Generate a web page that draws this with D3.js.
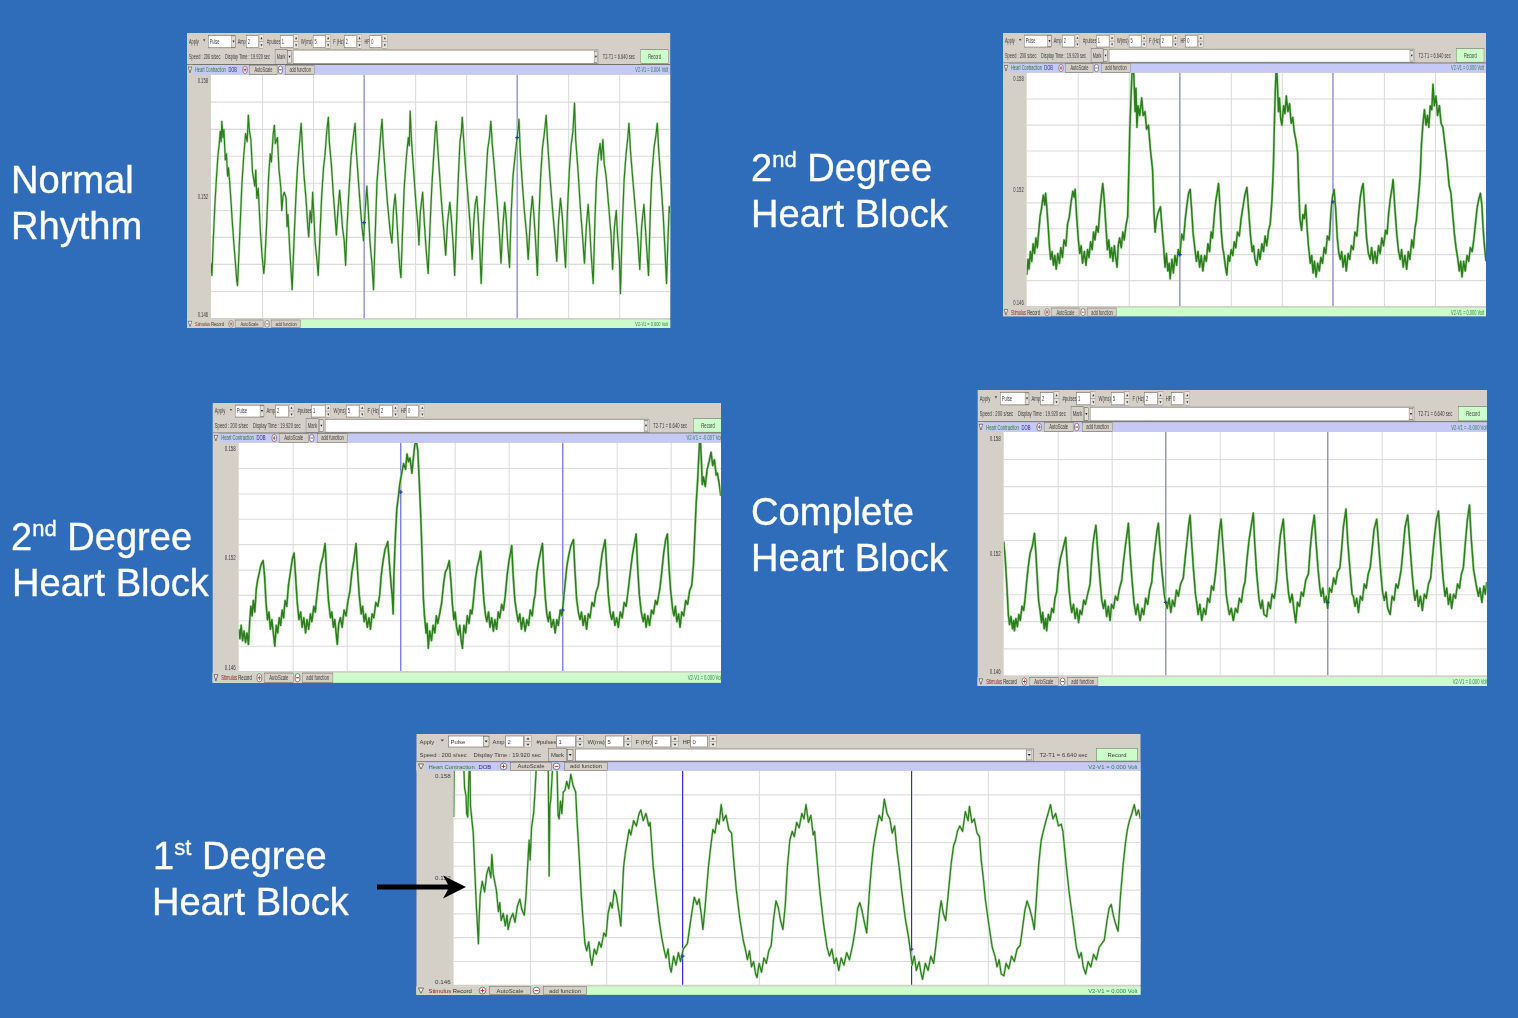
<!DOCTYPE html>
<html>
<head>
<meta charset="utf-8">
<title>Heart block recordings</title>
<script src="https://cdn.jsdelivr.net/npm/d3@7"></script>
<style>
  html, body { margin: 0; padding: 0; background: #2f6dbb; overflow: hidden; }
  svg { display: block; }
  text { font-family: "Liberation Sans", Arial, sans-serif; }
</style>
</head>
<body>
<svg id="slide" width="1518" height="1018"></svg>
<script>
// traces: [time in sec, volts]
var normalTrace = [
[0,.1487],[.04,.1481],[.1,.1499],[.17,.1516],[.22,.1526],[.3,.1540],[.36,.1546],[.4,.1552],[.44,.1547],[.47,.1557],[.52,.1549],[.56,.1553],[.62,.1538],[.67,.1541],[.72,.1530],[.76,.1534],[.81,.1527],[.86,.1519],[.92,.1508],[.99,.1497],[1.06,.1487],[1.12,.1478],[1.15,.1476],
[1.2,.1489],[1.28,.1510],[1.34,.1526],[1.42,.1540],[1.5,.1551],[1.57,.1547],[1.62,.1560],[1.67,.1552],[1.73,.1548],[1.8,.1532],[1.9,.1525],[1.94,.1533],[1.99,.1519],[2.05,.1524],[2.14,.1503],[2.22,.1490],[2.29,.1482],[2.33,.1487],
[2.42,.1508],[2.5,.1530],[2.57,.1541],[2.62,.1537],[2.7,.1551],[2.75,.1555],[2.79,.1546],[2.88,.1549],[2.95,.1533],[3.03,.1524],[3.07,.1513],[3.12,.1520],[3.18,.1522],[3.26,.1519],[3.3,.1505],[3.34,.1511],[3.42,.1493],[3.48,.1482],[3.52,.1474],
[3.6,.1498],[3.68,.1519],[3.75,.1534],[3.82,.1544],[3.91,.1556],[3.97,.1543],[4.03,.1531],[4.12,.1519],[4.2,.1505],[4.24,.1500],[4.3,.1513],[4.36,.1507],[4.41,.1522],[4.46,.1511],[4.52,.1497],[4.6,.1488],[4.65,.1481],
[4.72,.1499],[4.8,.1520],[4.88,.1534],[4.95,.1541],[5.02,.1552],[5.09,.1559],[5.13,.1547],[5.22,.1536],[5.3,.1522],[5.38,.1510],[5.44,.1501],[5.5,.1512],[5.58,.1523],[5.63,.1516],[5.7,.1505],[5.78,.1498],[5.84,.1486],
[5.9,.1505],[6,.1526],[6.08,.1540],[6.17,.1549],[6.25,.1556],[6.3,.1543],[6.38,.1530],[6.47,.1516],[6.55,.1505],[6.62,.1498],[6.68,.1512],[6.76,.1525],[6.82,.1514],[6.9,.1497],[6.98,.1487],[7.05,.1474],
[7.12,.1500],[7.2,.1527],[7.3,.1541],[7.37,.1552],[7.42,.1558],[7.47,.1546],[7.56,.1531],[7.66,.1516],[7.78,.1502],[7.85,.1497],[7.92,.1514],[7.99,.1521],[8.05,.1511],[8.12,.1497],[8.19,.1485],[8.24,.1480],
[8.3,.1500],[8.38,.1524],[8.48,.1540],[8.56,.1549],[8.6,.1545],[8.64,.1562],[8.7,.1547],[8.8,.1531],[8.9,.1515],[8.98,.1505],[9.02,.1496],[9.08,.1512],[9.18,.1522],[9.26,.1506],[9.33,.1494],[9.42,.1482],
[9.5,.1505],[9.58,.1525],[9.66,.1540],[9.72,.1551],[9.77,.1557],[9.83,.1545],[9.92,.1530],[10,.1517],[10.1,.1503],[10.18,.1491],[10.26,.1507],[10.36,.1517],[10.42,.1510],[10.5,.1497],[10.57,.1481],
[10.64,.1503],[10.72,.1527],[10.8,.1547],[10.86,.1552],[10.9,.1559],[10.96,.1548],[11.06,.1532],[11.16,.1518],[11.26,.1503],[11.33,.1489],[11.4,.1508],[11.46,.1516],[11.53,.1520],[11.59,.1510],[11.66,.1494],[11.72,.1477],
[11.8,.1502],[11.9,.1523],[12,.1543],[12.08,.1549],[12.14,.1557],[12.2,.1546],[12.3,.1533],[12.42,.1516],[12.52,.1500],[12.58,.1487],[12.66,.1505],[12.74,.1517],[12.8,.1510],[12.88,.1495],[12.95,.1485],
[13.02,.1511],[13.1,.1530],[13.2,.1541],[13.28,.1549],[13.36,.1558],[13.42,.1541],[13.5,.1527],[13.6,.1512],[13.7,.1500],[13.76,.1489],[13.86,.1510],[13.94,.1520],[14,.1512],[14.08,.1498],[14.16,.1481],
[14.22,.1508],[14.3,.1530],[14.38,.1544],[14.46,.1551],[14.54,.1560],[14.6,.1547],[14.7,.1530],[14.82,.1513],[14.92,.1500],[15,.1488],[15.08,.1508],[15.16,.1519],[15.24,.1510],[15.32,.1495],[15.38,.1485],
[15.46,.1512],[15.54,.1532],[15.62,.1545],[15.7,.1552],[15.77,.1566],[15.82,.1548],[15.92,.1533],[16.02,.1515],[16.12,.1500],[16.2,.1487],[16.28,.1505],[16.36,.1516],[16.42,.1506],[16.5,.1490],[16.58,.1477],
[16.66,.1510],[16.72,.1528],[16.8,.1540],[16.88,.1546],[16.93,.1538],[17,.1548],[17.06,.1536],[17.14,.1530],[17.26,.1514],[17.36,.1500],[17.42,.1484],[17.5,.1505],[17.58,.1513],[17.64,.1500],[17.72,.1488],[17.76,.1472],
[17.84,.1505],[17.92,.1528],[18,.1540],[18.08,.1549],[18.13,.1556],[18.2,.1542],[18.3,.1528],[18.42,.1512],[18.52,.1498],[18.6,.1484],[18.68,.1505],[18.78,.1516],[18.84,.1505],[18.92,.1491],[18.98,.1481],
[19.05,.1510],[19.12,.1530],[19.22,.1544],[19.3,.1550],[19.36,.1556],[19.42,.1543],[19.52,.1527],[19.62,.1510],[19.7,.1492],[19.76,.1477],[19.82,.1498],[19.88,.1515],[19.92,.1512]
];

var secondTraceTop = [
[0,.1476],[.06,.1484],[.1,.1479],[.16,.1488],[.22,.1483],[.28,.1492],[.34,.1487],[.4,.1495],[.46,.1490],[.52,.1498],[.58,.1506],[.64,.1510],[.72,.1517],[.78,.1512],[.82,.1518],[.87,.1511],[.93,.1501],[.99,.1490],[1.04,.1484],[1.1,.1488],[1.16,.1481],[1.22,.1486],[1.28,.1479],[1.35,.1487],[1.42,.1482],[1.48,.1490],[1.55,.1485],[1.62,.1494],[1.7,.1491],[1.77,.1502],[1.85,.1506],[1.93,.1514],[2,.1519],[2.06,.1516],[2.1,.1520],[2.16,.1507],[2.24,.1494],[2.3,.1487],[2.36,.1491],[2.42,.1482],[2.5,.1488],[2.57,.1481],[2.64,.1489],[2.7,.1485],[2.77,.1493],[2.84,.1489],[2.9,.1498],[2.96,.1494],[3.03,.1501],[3.1,.1498],[3.18,.1510],[3.25,.1518],[3.3,.1523],[3.36,.1515],[3.44,.1500],[3.5,.1489],[3.56,.1494],[3.62,.1485],[3.68,.1490],[3.74,.1483],[3.8,.1491],[3.86,.1485],[3.92,.1480],[3.97,.1491],[4.03,.1495],[4.1,.1490],[4.17,.1498],[4.23,.1494],[4.3,.1501],[4.38,.1506],[4.42,.1525],[4.47,.1550],[4.5,.1560],[4.55,.1575],[4.6,.1590],[4.66,.1575],[4.7,.1560],[4.74,.1572],[4.78,.1552],[4.83,.1563],[4.9,.1558],[4.99,.1567],[5.05,.1558],[5.13,.1560],[5.2,.1551],[5.28,.1553],[5.36,.1541],[5.46,.1530],[5.52,.1508],[5.57,.1498],[5.62,.1504],[5.7,.1508],[5.8,.1511],[5.87,.1500],[5.94,.1490],[6,.1480],[6.06,.1487],[6.12,.1478],[6.18,.1482],[6.22,.1474],
[6.3,.1484],[6.36,.1477],[6.43,.1486],[6.5,.1481],[6.57,.1489],[6.64,.1486],[6.72,.1497],[6.8,.1494],[6.88,.1505],[6.95,.1512],[7.02,.1518],[7.09,.1520],[7.15,.1510],[7.22,.1497],[7.3,.1489],[7.36,.1483],[7.43,.1488],[7.5,.1480],[7.57,.1486],[7.64,.1478],[7.72,.1486],[7.79,.1483],[7.86,.1492],[7.93,.1488],[8,.1498],[8.06,.1495],[8.14,.1507],[8.2,.1514],[8.27,.1519],[8.32,.1523],[8.38,.1512],[8.44,.1498],[8.5,.1490],[8.56,.1486],[8.62,.1480],[8.68,.1476],[8.74,.1486],[8.8,.1483],[8.87,.1489],[8.94,.1486],[9,.1493],[9.07,.1490],[9.14,.1498],[9.22,.1496],[9.3,.1505],[9.38,.1511],[9.46,.1517],[9.55,.1521],[9.62,.1510],[9.7,.1497],[9.78,.1488],[9.84,.1491],[9.9,.1484],[9.98,.1481],[10.05,.1489],[10.12,.1484],[10.2,.1492],[10.27,.1488],[10.34,.1496],[10.41,.1491],[10.49,.1499],[10.56,.1502],[10.64,.1515],[10.7,.1532],[10.74,.1553],[10.78,.1570],[10.83,.1585],[10.86,.1578],[10.92,.1560],[10.96,.1567],[11.02,.1556],[11.07,.1553],[11.14,.1563],[11.2,.1559],[11.26,.1568],[11.33,.1560],[11.4,.1564],[11.47,.1554],[11.54,.1557],[11.6,.1550],[11.68,.1545],[11.75,.1539],[11.8,.1520],[11.85,.1505],[11.92,.1499],[11.98,.1507],[12.04,.1505],[12.1,.1512],[12.16,.1500],[12.22,.1491],[12.3,.1482],[12.36,.1486],[12.42,.1477],[12.48,.1483],[12.55,.1475],[12.62,.1482],[12.69,.1478],[12.76,.1485],[12.83,.1482],[12.9,.1490],[12.97,.1487],[13.04,.1496],[13.12,.1494],[13.2,.1509],[13.26,.1516],[13.33,.1520],[13.4,.1510],[13.47,.1495],[13.54,.1487],[13.6,.1484],[13.66,.1488],[13.72,.1480],[13.8,.1486],[13.86,.1478],[13.94,.1487],[14.01,.1484],[14.08,.1491],[14.16,.1489],[14.24,.1498],[14.32,.1496],[14.4,.1508],[14.47,.1516],[14.54,.1521],[14.59,.1523],[14.66,.1510],[14.74,.1495],[14.82,.1487],[14.9,.1484],[14.96,.1490],[15.03,.1482],[15.1,.1488],[15.18,.1482],[15.26,.1491],[15.33,.1487],[15.4,.1495],[15.48,.1491],[15.56,.1499],[15.63,.1497],[15.7,.1508],[15.78,.1516],[15.85,.1521],[15.89,.1525],[15.97,.1510],[16.05,.1497],[16.13,.1488],[16.2,.1484],[16.26,.1489],[16.33,.1480],[16.4,.1486],[16.48,.1479],[16.55,.1488],[16.62,.1484],[16.7,.1494],[16.77,.1490],[16.84,.1500],[16.9,.1504],[16.96,.1512],[17.02,.1520],[17.07,.1528],[17.12,.1543],[17.18,.1553],[17.25,.1561],[17.32,.1553],[17.38,.1558],[17.44,.1552],[17.5,.1563],[17.57,.1561],[17.62,.1574],[17.68,.1563],[17.75,.1568],[17.82,.1558],[17.9,.1563],[17.97,.1554],[18.05,.1552],[18.14,.1543],[18.23,.1534],[18.32,.1522],[18.4,.1518],[18.47,.1508],[18.55,.1497],[18.62,.1490],[18.7,.1484],[18.76,.1478],[18.82,.1483],[18.88,.1475],[18.95,.1483],[19.02,.1478],[19.1,.1486],[19.17,.1483],[19.24,.1490],[19.32,.1488],[19.39,.1494],[19.46,.1502],[19.54,.1511],[19.61,.1515],[19.68,.1518],[19.74,.1512],[19.8,.1499],[19.86,.1490],[19.92,.1483]
];

var secondTraceLeft = [
[0,.1482],[.05,.1477],[.1,.1484],[.16,.1476],[.22,.1481],[.28,.1475],[.34,.1480],[.4,.1474],[.45,.1486],[.5,.1494],[.55,.1489],[.6,.1497],[.66,.1491],[.72,.1503],[.78,.1508],[.85,.1512],[.92,.1516],[1,.1518],[1.06,.1510],[1.12,.1496],[1.18,.1487],[1.24,.1491],[1.3,.1482],[1.36,.1487],[1.42,.1480],[1.48,.1473],[1.54,.1484],[1.6,.1480],[1.66,.1488],[1.72,.1484],[1.78,.1492],[1.84,.1488],[1.9,.1497],[1.97,.1494],[2.04,.1505],[2.12,.1512],[2.2,.1519],[2.27,.1522],[2.33,.1510],[2.4,.1496],[2.47,.1487],[2.54,.1491],[2.6,.1483],[2.67,.1488],[2.74,.1480],[2.8,.1487],[2.87,.1482],[2.94,.1490],[3,.1486],[3.08,.1494],[3.14,.1491],[3.2,.1499],[3.28,.1508],[3.36,.1516],[3.45,.1520],[3.54,.1527],[3.6,.1512],[3.68,.1497],[3.76,.1488],[3.82,.1491],[3.88,.1483],[3.94,.1487],[4,.1479],[4.04,.1474],[4.1,.1485],[4.17,.1488],[4.24,.1483],[4.32,.1492],[4.4,.1489],[4.48,.1497],[4.56,.1502],[4.64,.1512],[4.72,.1518],[4.81,.1527],[4.87,.1513],[4.94,.1500],[5.02,.1490],[5.08,.1494],[5.14,.1486],[5.2,.1490],[5.27,.1483],[5.34,.1488],[5.4,.1482],[5.47,.1490],[5.54,.1488],[5.62,.1496],[5.7,.1494],[5.78,.1500],[5.84,.1510],[5.92,.1518],[6,.1524],[6.11,.1528],[6.18,.1516],[6.25,.1505],[6.3,.1498],[6.33,.1490],[6.36,.1510],[6.42,.1530],[6.48,.1545],[6.55,.1552],[6.6,.1558],[6.68,.1564],[6.76,.1569],[6.84,.1566],[6.9,.1574],[6.96,.1570],[7.02,.1572],[7.1,.1564],[7.16,.1572],[7.22,.1579],[7.28,.1581],[7.34,.1576],[7.4,.1560],[7.46,.1542],[7.52,.1520],[7.57,.1498],[7.62,.1488],[7.68,.1480],[7.72,.1485],[7.77,.1472],
[7.83,.1481],[7.9,.1476],[7.97,.1484],[8.04,.1480],[8.1,.1489],[8.16,.1485],[8.25,.1491],[8.32,.1496],[8.4,.1506],[8.47,.1512],[8.55,.1514],[8.63,.1518],[8.7,.1507],[8.76,.1495],[8.82,.1487],[8.87,.1491],[8.93,.1483],[9,.1479],[9.06,.1484],[9.12,.1476],[9.17,.1472],[9.23,.1484],[9.3,.1480],[9.37,.1489],[9.44,.1485],[9.5,.1492],[9.56,.1490],[9.62,.1497],[9.7,.1508],[9.78,.1515],[9.86,.1519],[9.92,.1523],[9.98,.1510],[10.05,.1497],[10.12,.1489],[10.17,.1486],[10.24,.1491],[10.3,.1483],[10.37,.1488],[10.44,.1481],[10.5,.1487],[10.57,.1482],[10.64,.1491],[10.7,.1488],[10.78,.1495],[10.85,.1492],[10.92,.1499],[11,.1510],[11.08,.1518],[11.14,.1522],[11.19,.1526],[11.25,.1510],[11.32,.1497],[11.4,.1490],[11.46,.1486],[11.52,.1490],[11.59,.1482],[11.66,.1488],[11.74,.1481],[11.81,.1487],[11.88,.1484],[11.95,.1492],[12.03,.1489],[12.1,.1497],[12.15,.1500],[12.22,.1512],[12.3,.1518],[12.38,.1523],[12.45,.1527],[12.5,.1512],[12.57,.1498],[12.63,.1490],[12.69,.1486],[12.75,.1491],[12.82,.1483],[12.9,.1487],[12.97,.1480],[13.04,.1487],[13.1,.1484],[13.18,.1492],[13.25,.1489],[13.31,.1497],[13.38,.1506],[13.45,.1515],[13.53,.1521],[13.62,.1526],[13.72,.1529],[13.78,.1513],[13.85,.1498],[13.92,.1491],[13.99,.1487],[14.05,.1491],[14.12,.1484],[14.19,.1489],[14.26,.1482],[14.33,.1490],[14.4,.1488],[14.48,.1496],[14.56,.1494],[14.64,.1501],[14.74,.1505],[14.82,.1514],[14.9,.1522],[15.02,.1529],[15.08,.1515],[15.15,.1500],[15.22,.1491],[15.29,.1487],[15.35,.1491],[15.42,.1484],[15.49,.1488],[15.56,.1483],[15.64,.1491],[15.72,.1488],[15.8,.1496],[15.88,.1494],[15.97,.1503],[16.05,.1512],[16.14,.1521],[16.22,.1527],[16.29,.1532],[16.35,.1515],[16.42,.1500],[16.5,.1491],[16.58,.1486],[16.64,.1490],[16.7,.1483],[16.77,.1489],[16.84,.1484],[16.92,.1492],[17,.1490],[17.08,.1497],[17.15,.1495],[17.27,.1504],[17.34,.1512],[17.42,.1522],[17.5,.1529],[17.57,.1532],[17.63,.1516],[17.7,.1503],[17.78,.1493],[17.84,.1489],[17.9,.1494],[17.96,.1486],[18.03,.1490],[18.09,.1483],[18.16,.1491],[18.24,.1489],[18.32,.1497],[18.4,.1495],[18.48,.1502],[18.57,.1505],[18.64,.1516],[18.7,.1533],[18.75,.1548],[18.81,.1560],[18.86,.1573],[18.91,.1585],[18.96,.1572],[19,.1558],[19.05,.1562],[19.12,.1557],[19.2,.1566],[19.28,.1570],[19.36,.1575],[19.43,.1568],[19.5,.1571],[19.57,.1563],[19.62,.1564],[19.7,.1558],[19.76,.1552]
];

var completeTrace = [
[0,.1526],[.06,.1518],[.12,.1506],[.16,.1497],[.19,.1490],[.24,.1485],[.3,.1489],[.36,.1483],[.41,.1487],[.44,.1482],[.5,.1488],[.56,.1484],[.62,.1490],[.68,.1487],[.75,.1494],[.82,.1492],[.87,.1497],[.94,.1506],[1,.1513],[1.08,.1520],[1.18,.1524],[1.26,.1530],[1.32,.1520],[1.38,.1507],[1.43,.1497],[1.49,.1492],[1.55,.1486],[1.6,.1491],[1.66,.1483],[1.72,.1488],[1.76,.1482],[1.83,.1490],[1.9,.1487],[1.97,.1493],[2.04,.1491],[2.1,.1498],[2.17,.1501],[2.25,.1512],[2.33,.1518],[2.42,.1522],[2.54,.1528],[2.6,.1516],[2.68,.1502],[2.74,.1495],[2.79,.1491],[2.86,.1495],[2.93,.1488],[3,.1493],[3.07,.1486],[3.13,.1492],[3.2,.1490],[3.28,.1497],[3.35,.1495],[3.44,.1500],[3.54,.1505],[3.6,.1516],[3.66,.1525],[3.72,.1530],[3.78,.1534],[3.86,.1520],[3.94,.1508],[4.02,.1497],[4.09,.1493],[4.15,.1497],[4.22,.1489],[4.29,.1494],[4.36,.1487],[4.42,.1495],[4.5,.1493],[4.58,.1499],[4.66,.1497],[4.75,.1503],[4.84,.1507],[4.91,.1516],[5,.1525],[5.06,.1530],[5.11,.1535],[5.18,.1520],[5.26,.1507],[5.34,.1496],[5.42,.1490],[5.49,.1495],[5.59,.1487],[5.67,.1493],[5.74,.1490],[5.82,.1498],[5.9,.1495],[5.98,.1502],[6.07,.1506],[6.14,.1517],[6.22,.1525],[6.28,.1531],[6.34,.1535],[6.4,.1524],[6.48,.1512],[6.58,.1500],[6.64,.1496],[6.7,.1493],[6.78,.1498],[6.85,.1491],[6.92,.1497],[7,.1494],[7.08,.1502],[7.16,.1499],[7.25,.1505],[7.36,.1508],[7.44,.1518],[7.52,.1527],[7.58,.1534],[7.64,.1539],[7.7,.1526],[7.78,.1512],[7.86,.1500],[7.91,.1496],[7.97,.1490],[8.04,.1495],[8.12,.1487],[8.2,.1493],[8.28,.1490],[8.36,.1498],[8.44,.1496],[8.52,.1504],[8.6,.1502],[8.69,.1511],[8.76,.1520],[8.84,.1531],[8.91,.1537],[8.98,.1525],[9.06,.1512],[9.12,.1500],[9.18,.1495],[9.25,.1490],[9.33,.1493],[9.41,.1487],[9.5,.1493],[9.58,.1491],[9.66,.1498],[9.74,.1496],[9.82,.1503],[9.89,.1506],[9.97,.1517],[10.06,.1527],[10.15,.1534],[10.23,.1540],[10.29,.1525],[10.37,.1510],[10.47,.1497],[10.54,.1493],[10.6,.1497],[10.67,.1490],[10.78,.1489],[10.85,.1496],[10.93,.1493],[11,.1500],[11.09,.1498],[11.19,.1507],[11.27,.1520],[11.34,.1529],[11.4,.1533],[11.46,.1537],[11.52,.1525],[11.6,.1510],[11.68,.1500],[11.74,.1496],[11.82,.1500],[11.9,.1492],[11.97,.1486],[12.04,.1496],[12.12,.1494],[12.2,.1501],[12.28,.1499],[12.38,.1507],[12.49,.1510],[12.56,.1522],[12.64,.1532],[12.73,.1539],[12.8,.1526],[12.88,.1513],[12.96,.1503],[13.01,.1499],[13.08,.1503],[13.15,.1496],[13.22,.1499],[13.28,.1493],[13.35,.1503],[13.44,.1501],[13.52,.1508],[13.6,.1505],[13.68,.1511],[13.78,.1513],[13.85,.1522],[13.92,.1533],[14.03,.1542],[14.1,.1526],[14.2,.1511],[14.28,.1500],[14.33,.1499],[14.4,.1494],[14.47,.1498],[14.54,.1491],[14.62,.1499],[14.7,.1497],[14.78,.1505],[14.86,.1503],[14.94,.1510],[15.02,.1513],[15.1,.1522],[15.18,.1532],[15.29,.1537],[15.37,.1524],[15.46,.1510],[15.53,.1501],[15.6,.1497],[15.67,.1501],[15.74,.1493],[15.84,.1490],[15.92,.1499],[16,.1497],[16.08,.1505],[16.16,.1503],[16.29,.1512],[16.36,.1521],[16.45,.1533],[16.56,.1539],[16.64,.1526],[16.74,.1510],[16.82,.1500],[16.86,.1497],[16.94,.1502],[17,.1494],[17.08,.1499],[17.16,.1492],[17.24,.1500],[17.32,.1498],[17.41,.1505],[17.5,.1508],[17.58,.1519],[17.66,.1529],[17.74,.1537],[17.82,.1541],[17.9,.1526],[18,.1509],[18.09,.1499],[18.16,.1503],[18.23,.1495],[18.3,.1500],[18.36,.1493],[18.44,.1500],[18.52,.1498],[18.6,.1505],[18.68,.1503],[18.76,.1510],[18.84,.1513],[18.92,.1525],[19,.1536],[19.09,.1544],[19.16,.1528],[19.26,.1512],[19.39,.1503],[19.46,.1499],[19.52,.1503],[19.6,.1496],[19.68,.1504],[19.74,.1500],[19.8,.1506]
];

var firstTrace = [
[0,.1554],[.02,.1590],[.05,.1620],[.12,.1610],[.2,.1600],[.28,.1590],[.32,.1570],[.36,.1566],[.38,.1556],[.41,.1554],[.44,.1575],[.47,.1590],[.49,.1560],[.57,.1545],[.61,.1526],[.66,.1504],[.72,.1483],[.74,.1497],[.77,.1510],[.83,.1518],[.9,.1512],[.96,.1522],[1.02,.1526],[1.08,.1520],[1.11,.1533],[1.15,.1522],[1.2,.1517],[1.24,.1513],[1.3,.1501],[1.34,.1506],[1.38,.1496],[1.44,.1500],[1.5,.1493],[1.55,.1499],[1.58,.1491],[1.65,.1497],[1.72,.1500],[1.78,.1495],[1.85,.1504],[1.92,.1508],[1.98,.1502],[2.05,.1499],[2.1,.1510],[2.14,.1524],[2.19,.1541],[2.22,.1530],[2.26,.1548],[2.32,.1556],[2.36,.1568],[2.42,.1590],[2.5,.1610],[2.6,.1620],[2.74,.1595],[2.77,.1521],[2.79,.1560],[2.82,.1564],[2.88,.1585],[2.94,.1600],[3,.1582],[3.03,.1555],[3.06,.1553],[3.1,.1563],[3.14,.1556],[3.18,.1568],[3.23,.1569],[3.28,.1574],[3.34,.1570],[3.4,.1578],[3.46,.1572],[3.54,.1568],[3.58,.1552],[3.63,.1536],[3.67,.1522],[3.71,.1508],[3.76,.1495],[3.81,.1483],[3.86,.1479],[3.92,.1484],[3.97,.1475],[4.01,.1471],[4.08,.1480],[4.14,.1477],[4.22,.1484],[4.28,.1481],[4.36,.1489],[4.42,.1487],[4.48,.1500],[4.55,.1506],[4.6,.1503],[4.66,.1513],[4.72,.1510],[4.8,.1500],[4.85,.1493],[4.89,.1510],[4.93,.1526],[4.98,.1534],[5.03,.1540],[5.09,.1547],[5.14,.1544],[5.22,.1552],[5.3,.1549],[5.38,.1556],[5.43,.1558],[5.5,.1552],[5.58,.1556],[5.66,.1549],[5.7,.1551],[5.74,.1540],[5.79,.1526],[5.88,.1510],[5.97,.1495],[6.04,.1486],[6.1,.1480],[6.16,.1475],[6.22,.1480],[6.27,.1470],[6.31,.1467],[6.38,.1476],[6.45,.1471],[6.52,.1478],[6.58,.1473],[6.66,.1480],[6.78,.1483],[6.86,.1494],[6.93,.1503],[6.98,.1509],[7.06,.1505],[7.12,.1508],[7.18,.1500],[7.23,.1491],[7.3,.1505],[7.39,.1526],[7.46,.1538],[7.52,.1547],[7.58,.1545],[7.64,.1553],[7.7,.1550],[7.76,.1561],[7.82,.1552],[7.9,.1555],[7.98,.1547],[8.06,.1545],[8.13,.1528],[8.2,.1513],[8.3,.1497],[8.4,.1485],[8.46,.1480],[8.52,.1474],[8.58,.1479],[8.64,.1470],[8.7,.1473],[8.76,.1466],[8.8,.1464],[8.86,.1472],[8.93,.1467],[9,.1475],[9.07,.1472],[9.14,.1479],[9.21,.1482],[9.28,.1497],[9.35,.1507],[9.42,.1503],[9.48,.1496],[9.55,.1491],[9.62,.1505],[9.68,.1526],[9.75,.1541],[9.82,.1546],[9.88,.1543],[9.95,.1551],[10.02,.1548],[10.1,.1556],[10.16,.1553],[10.22,.1561],[10.29,.1551],[10.36,.1555],[10.43,.1544],[10.47,.1546],[10.55,.1528],[10.63,.1511],[10.73,.1494],[10.83,.1481],[10.9,.1476],[10.97,.1480],[11.04,.1472],[11.1,.1475],[11.17,.1468],[11.24,.1475],[11.32,.1471],[11.4,.1478],[11.48,.1474],[11.57,.1482],[11.64,.1490],[11.72,.1503],[11.78,.1506],[11.84,.1502],[11.9,.1496],[11.98,.1489],[12.05,.1510],[12.12,.1527],[12.18,.1538],[12.26,.1547],[12.34,.1555],[12.42,.1552],[12.49,.1564],[12.57,.1556],[12.65,.1553],[12.72,.1545],[12.79,.1549],[12.86,.1535],[12.92,.1526],[13,.1512],[13.1,.1497],[13.19,.1487],[13.24,.1480],[13.3,.1471],[13.36,.1476],[13.42,.1468],[13.5,.1473],[13.56,.1466],[13.6,.1463],[13.68,.1472],[13.76,.1468],[13.84,.1476],[13.92,.1472],[13.98,.1481],[14.05,.1493],[14.1,.1502],[14.14,.1507],[14.2,.1500],[14.27,.1496],[14.35,.1512],[14.43,.1528],[14.5,.1538],[14.56,.1541],[14.61,.1546],[14.68,.1549],[14.76,.1546],[14.84,.1557],[14.92,.1552],[14.96,.1560],[15.03,.1551],[15.1,.1553],[15.18,.1545],[15.25,.1543],[15.3,.1530],[15.36,.1520],[15.42,.1508],[15.52,.1494],[15.62,.1481],[15.7,.1476],[15.76,.1470],[15.82,.1474],[15.88,.1466],[15.96,.1465],[16.02,.1472],[16.1,.1469],[16.18,.1476],[16.26,.1473],[16.34,.1480],[16.43,.1482],[16.5,.1492],[16.57,.1502],[16.63,.1507],[16.7,.1503],[16.77,.1498],[16.84,.1491],[16.9,.1508],[16.97,.1528],[17.04,.1541],[17.1,.1546],[17.18,.1552],[17.24,.1556],[17.31,.1561],[17.38,.1553],[17.46,.1556],[17.54,.1549],[17.62,.1550],[17.67,.1546],[17.76,.1528],[17.85,.1512],[17.96,.1496],[18.06,.1481],[18.14,.1475],[18.2,.1478],[18.26,.1470],[18.33,.1466],[18.4,.1473],[18.48,.1470],[18.56,.1477],[18.64,.1474],[18.72,.1481],[18.87,.1485],[18.95,.1496],[19.01,.1503],[19.07,.1505],[19.13,.1499],[19.2,.1494],[19.27,.1490],[19.34,.1510],[19.41,.1526],[19.48,.1539],[19.54,.1547],[19.6,.1552],[19.67,.1556],[19.74,.1561],[19.8,.1555],[19.86,.1558],[19.92,.1553]
];

// tick values and the readouts shown on each recorder window
var voltLabels = [0.146, 0.152, 0.158];
var voltGrid = [0.14733, 0.14867, 0.15, 0.15133, 0.15267, 0.154, 0.15533, 0.15667];
var timeGrid = [2.2133, 4.4267, 6.64, 8.8533, 11.0667, 13.28, 15.4933, 17.7067];
var cursorTimes = [6.64, 13.28];
var topReadouts = ["V2-V1 = 0.004 Volt", "V2-V1 = 0.000 Volt", "V2-V1 = -0.007 Volt", "V2-V1 = -0.000 Volt", "V2-V1 = 0.000 Volt"];
var bottomReadouts = ["V2-V1 = 0.000 Volt", "V2-V1 = 0.000 Volt", "V2-V1 = 0.000 Volt", "V2-V1 = 0.000 Volt", "V2-V1 = 0.000 Volt"];
// [time, volts] of the small blue cursor crosses
var normalMarks = [[6.64, .1507], [13.28, .1549]];
var secondTopMarks = [[6.64, .14864], [13.28, .15135]];
var secondLeftMarks = [[6.64, .1554], [13.28, .1492]];
var completeMarks = [[6.64, .1496], [13.28, .1496]];
var firstMarks = [[6.64, .1476], [13.28, .148]];

// window geometry on the slide
var windows = [
  { trace: normalTrace, marks: normalMarks, x: 187, y: 33, w: 483.2, clip: 483.2, left: 211, top: 74.7, bottom: 318, stripB: 328, cursor: "#7f7fdc", blur: 0.35, lineW: 1.2 },
  { trace: secondTraceTop, marks: secondTopMarks, x: 1003, y: 33, w: 483, clip: 483, left: 1026.7, top: 72.7, bottom: 306, stripB: 316.5, cursor: "#7f7fdc", blur: 0.35, lineW: 1.5 },
  { trace: secondTraceLeft, marks: secondLeftMarks, x: 212.7, y: 403, w: 512, clip: 508, left: 238.7, top: 442.7, bottom: 671, stripB: 682.7, cursor: "#6e6edc", blur: 0.3, lineW: 1.5 },
  { trace: completeTrace, marks: completeMarks, x: 977.7, y: 390, w: 512, clip: 509, left: 1003.7, top: 432, bottom: 675.3, stripB: 686, cursor: "#7f7fdc", blur: 0.3, lineW: 1.5 },
  { trace: firstTrace, marks: firstMarks, x: 416.5, y: 734, w: 724, clip: 724, left: 453.6, top: 770.7, bottom: 984.7, stripB: 994.7, cursor: "#2a2ae0", blur: 0.25, lineW: 1.25 }
];

var chromeGrey = "#d4d0c8", lilac = "#c6c8f6", mint = "#ccfcc9", textGrey = "#3c3c3c";
var svg = d3.select("#slide");

var defs = svg.append("defs");

// spin buttons, text boxes etc. are laid out for the largest window and then scaled
function drawToolbar(g, idx) {
  function label(str, x, y, fill) {
    return g.append("text").attr("x", x).attr("y", y).attr("font-size", 5.9).attr("fill", fill || textGrey).text(str);
  }
  function field(x, w, y, h, str) {
    g.append("rect").attr("x", x).attr("y", y).attr("width", w).attr("height", h).attr("fill", "#fff").attr("stroke", "#6e6a62").attr("stroke-width", 0.6);
    if (str) g.append("text").attr("x", x + 2).attr("y", y + h / 2 + 2).attr("font-size", 5.9).attr("fill", textGrey).text(str);
  }
  function spin(x) {
    g.append("rect").attr("x", x).attr("y", 1.5).attr("width", 7).attr("height", 6).attr("fill", "#e6e3dc").attr("stroke", "#8c8880").attr("stroke-width", 0.4);
    g.append("rect").attr("x", x).attr("y", 7.5).attr("width", 7).attr("height", 6).attr("fill", "#e6e3dc").attr("stroke", "#8c8880").attr("stroke-width", 0.4);
    g.append("path").attr("d", "M" + (x + 2) + ",5.4h3l-1.5,-2zM" + (x + 2) + ",9.8h3l-1.5,2z").attr("fill", "#333");
  }
  function button(x, w, y, h, str, fill) {
    g.append("rect").attr("x", x).attr("y", y).attr("width", w).attr("height", h).attr("fill", fill || chromeGrey).attr("stroke", "#6e6a62").attr("stroke-width", 0.5);
    g.append("text").attr("x", x + w / 2).attr("y", y + h / 2 + 2).attr("text-anchor", "middle").attr("font-size", 5.9).attr("fill", textGrey).text(str);
  }
  function drop(x, y, h) {
    g.append("rect").attr("x", x).attr("y", y).attr("width", 5.5).attr("height", h).attr("fill", "#e2dfd8").attr("stroke", "#5a564e").attr("stroke-width", 0.5);
    g.append("path").attr("d", "M" + (x + 1.2) + "," + (y + h / 2 - 1) + "h3l-1.5,2z").attr("fill", "#222");
  }

  label("Apply", 3, 9.5);
  g.append("path").attr("d", "M24,5.5h3.5l-1.75,2z").attr("fill", "#444");
  field(32, 40, 2, 11, "Pulse");
  drop(67, 2.5, 10);
  label("Amp", 76, 9.5);
  field(89, 18, 2, 11, "2");
  spin(108);
  label("#pulses", 120, 9.5);
  field(140, 19, 2, 11, "1");
  spin(160);
  label("W(ms)", 171, 9.5);
  field(189, 18, 2, 11, "5");
  spin(208);
  label("F (Hz)", 219, 9.5);
  field(236, 18, 2, 11, "2");
  spin(255);
  label("HP", 266, 9.5);
  field(274, 17, 2, 11, "0");
  spin(293);

  label("Speed : 200 s/sec", 3, 23);
  label("Display Time : 19.920 sec", 57, 23);
  button(132, 18, 14.5, 13, "Mark");
  drop(151, 15.5, 11);
  field(159, 458, 15, 12, "");
  drop(610, 16, 10);
  label("T2-T1 = 6.640 sec", 623, 23);
  button(680, 41, 14.5, 12.5, "Record", mint);

  // heart contraction header
  g.append("rect").attr("x", 0).attr("y", 28).attr("width", 724).attr("height", 8.7).attr("fill", lilac);
  g.append("rect").attr("x", 0).attr("y", 27.3).attr("width", 724).attr("height", 0.8).attr("fill", "#6e6a62");
  g.append("rect").attr("x", 0).attr("y", 28).attr("width", 9).attr("height", 8.7).attr("fill", chromeGrey);
  g.append("path").attr("d", "M2,30h5l-2.5,5z").attr("fill", "#fff").attr("stroke", "#222").attr("stroke-width", 0.6);
  label("Heart Contraction", 12, 34.6, "#2a7f2a");
  label("DOB", 62, 34.6, "#2b2b7a");
  zoomIcon(g, 87, 32.4, true);
  button(94, 41, 28.3, 8, "AutoScale");
  zoomIcon(g, 140, 32.4, false);
  button(148, 43, 28.3, 8, "add function");
  g.append("text").attr("x", 721).attr("y", 34.6).attr("text-anchor", "end").attr("font-size", 5.9).attr("fill", "#2a7f5a").text(topReadouts[idx]);
}

function zoomIcon(g, cx, cy, plus) {
  g.append("circle").attr("cx", cx).attr("cy", cy).attr("r", 3.3).attr("fill", "#fff").attr("stroke", "#333").attr("stroke-width", 0.6);
  g.append("path").attr("d", plus ? "M" + (cx - 2) + "," + cy + "h4M" + cx + "," + (cy - 2) + "v4" : "M" + (cx - 2) + "," + cy + "h4").attr("stroke", "#c02020").attr("stroke-width", 0.9);
}

function drawStrip(g, idx) {
  g.append("rect").attr("x", 0).attr("y", 0).attr("width", 724).attr("height", 8).attr("fill", mint);
  g.append("rect").attr("x", 0).attr("y", 0).attr("width", 170).attr("height", 8).attr("fill", chromeGrey);
  g.append("path").attr("d", "M2,1.5h5l-2.5,5z").attr("fill", "#fff").attr("stroke", "#222").attr("stroke-width", 0.6);
  var name = g.append("text").attr("x", 12).attr("y", 6.2).attr("font-size", 5.9).attr("fill", "#8a2020");
  name.append("tspan").text("Stimulus ");
  name.append("tspan").attr("fill", "#2b2b2b").text("Record");
  zoomIcon(g, 66, 4, true);
  g.append("rect").attr("x", 73).attr("y", 0.2).attr("width", 41).attr("height", 7.5).attr("fill", chromeGrey).attr("stroke", "#6e6a62").attr("stroke-width", 0.5);
  g.append("text").attr("x", 93.5).attr("y", 6.2).attr("text-anchor", "middle").attr("font-size", 5.9).attr("fill", textGrey).text("AutoScale");
  zoomIcon(g, 120, 4, false);
  g.append("rect").attr("x", 127).attr("y", 0.2).attr("width", 43).attr("height", 7.5).attr("fill", chromeGrey).attr("stroke", "#6e6a62").attr("stroke-width", 0.5);
  g.append("text").attr("x", 148.5).attr("y", 6.2).attr("text-anchor", "middle").attr("font-size", 5.9).attr("fill", textGrey).text("add function");
  g.append("text").attr("x", 721).attr("y", 6.2).attr("text-anchor", "end").attr("font-size", 5.9).attr("fill", "#2a7f5a").text(bottomReadouts[idx]);
}

function drawWindow(cfg, i) {
  var right = cfg.x + cfg.w;
  var sx = cfg.w / 724;
  var sy = (cfg.top - cfg.y) / 36.7;

  defs.append("clipPath").attr("id", "win" + i).append("rect")
    .attr("x", cfg.x).attr("y", cfg.y).attr("width", cfg.clip).attr("height", cfg.stripB - cfg.y);
  defs.append("clipPath").attr("id", "plot" + i).append("rect")
    .attr("x", cfg.left).attr("y", cfg.top).attr("width", cfg.x + cfg.clip - cfg.left).attr("height", cfg.bottom - cfg.top);
  defs.append("filter").attr("id", "soft" + i).attr("x", "-2%").attr("y", "-2%").attr("width", "104%").attr("height", "104%")
    .append("feGaussianBlur").attr("stdDeviation", cfg.blur);

  var win = svg.append("g").attr("clip-path", "url(#win" + i + ")").append("g").attr("filter", "url(#soft" + i + ")");

  win.append("rect").attr("x", cfg.x).attr("y", cfg.y).attr("width", cfg.w).attr("height", cfg.stripB - cfg.y).attr("fill", chromeGrey);
  win.append("rect").attr("x", cfg.left).attr("y", cfg.top).attr("width", right - cfg.left).attr("height", cfg.bottom - cfg.top).attr("fill", "#fff");

  var x = d3.scaleLinear().domain([0, 19.92]).range([cfg.left, right]);
  var y = d3.scaleLinear().domain([0.146, 0.158]).range([cfg.bottom, cfg.top]);

  // grid comes from the axes with long ticks
  var gridV = win.append("g").attr("transform", "translate(0," + cfg.bottom + ")")
    .call(d3.axisBottom(x).tickValues(timeGrid).tickSize(-(cfg.bottom - cfg.top)).tickFormat(""));
  var gridH = win.append("g").attr("transform", "translate(" + cfg.left + ",0)")
    .call(d3.axisLeft(y).tickValues(voltGrid).tickSize(-(right - cfg.left)).tickFormat(""));
  gridV.select(".domain").remove();
  gridH.select(".domain").remove();
  gridV.selectAll("line").attr("stroke", "#dcdcdc").attr("stroke-width", 1.1);
  gridH.selectAll("line").attr("stroke", "#dcdcdc").attr("stroke-width", 1.1);

  var axisV = win.append("g").attr("transform", "translate(" + cfg.left + ",0)")
    .call(d3.axisLeft(y).tickValues(voltLabels).tickSize(0).tickPadding(3).tickFormat(d3.format(".3f")));
  axisV.select(".domain").remove();
  axisV.selectAll("text")
    .attr("font-family", '"Liberation Sans", Arial, sans-serif')
    .attr("font-size", 6.2).attr("fill", textGrey)
    .attr("x", -3 / sx)
    .attr("dy", function(d) { return d === 0.158 ? 7 : d === 0.146 ? -1.5 : 2; })
    .attr("transform", "scale(" + sx + "," + sy + ")");

  win.selectAll(".cursor").data(cursorTimes).enter().append("line").attr("class", "cursor")
    .attr("x1", function(d) { return x(d); }).attr("x2", function(d) { return x(d); })
    .attr("y1", cfg.top).attr("y2", cfg.bottom)
    .attr("stroke", cfg.cursor).attr("stroke-width", 1.1);

  var line = d3.line().x(function(d) { return x(d[0]); }).y(function(d) { return y(d[1]); });
  var plot = win.append("g").attr("clip-path", "url(#plot" + i + ")");
  plot.append("path").datum(cfg.trace).attr("d", line).attr("fill", "none")
    .attr("stroke", "#b9e0b3").attr("stroke-width", cfg.lineW + 1.2).attr("stroke-linejoin", "round");
  plot.append("path").datum(cfg.trace).attr("d", line).attr("fill", "none")
    .attr("stroke", "#2e7d1f").attr("stroke-width", cfg.lineW).attr("stroke-linejoin", "round");

  plot.selectAll(".mark").data(cfg.marks).enter().append("path").attr("class", "mark")
    .attr("d", d3.symbol().type(d3.symbolCross).size(8))
    .attr("transform", function(d) { return "translate(" + x(d[0]) + "," + y(d[1]) + ")"; })
    .attr("fill", "#2540b0");

  var tools = win.append("g").attr("transform", "translate(" + cfg.x + "," + cfg.y + ") scale(" + sx + "," + sy + ")");
  drawToolbar(tools, i);
  var strip = win.append("g").attr("transform", "translate(" + cfg.x + "," + (cfg.bottom + 1.8) + ") scale(" + sx + "," + ((cfg.stripB - cfg.bottom - 1.8) / 8) + ")");
  drawStrip(strip, i);
}

windows.forEach(drawWindow);

// slide captions: [main text, superscript, rest, x, baseline]
var captions = [
  ["Normal", "", "", 11, 193],
  ["Rhythm", "", "", 11, 239],
  ["2", "nd", " Degree", 751, 181],
  ["Heart Block", "", "", 751, 227],
  ["2", "nd", " Degree", 11, 550],
  ["Heart Block", "", "", 12, 596],
  ["Complete", "", "", 751, 525],
  ["Heart Block", "", "", 751, 571],
  ["1", "st", " Degree", 153, 869],
  ["Heart Block", "", "", 152, 915]
];

captions.forEach(function(c) {
  var t = svg.append("text").attr("x", c[3]).attr("y", c[4]).attr("font-size", 38.1).attr("fill", "#fff")
    .attr("stroke", "#fff").attr("stroke-width", 0.35);
  t.append("tspan").text(c[0]);
  if (c[1]) {
    t.append("tspan").attr("font-size", 22).attr("dy", -14).text(c[1]);
    t.append("tspan").attr("dy", 14).text(c[2]);
  }
});

// arrow pointing at the first beat of the 1st degree trace
svg.append("path").attr("d", "M377,884.5h71l-5,-9l23,11.5l-23,11.5l5,-9h-71z").attr("fill", "#000");
</script>
</body>
</html>
